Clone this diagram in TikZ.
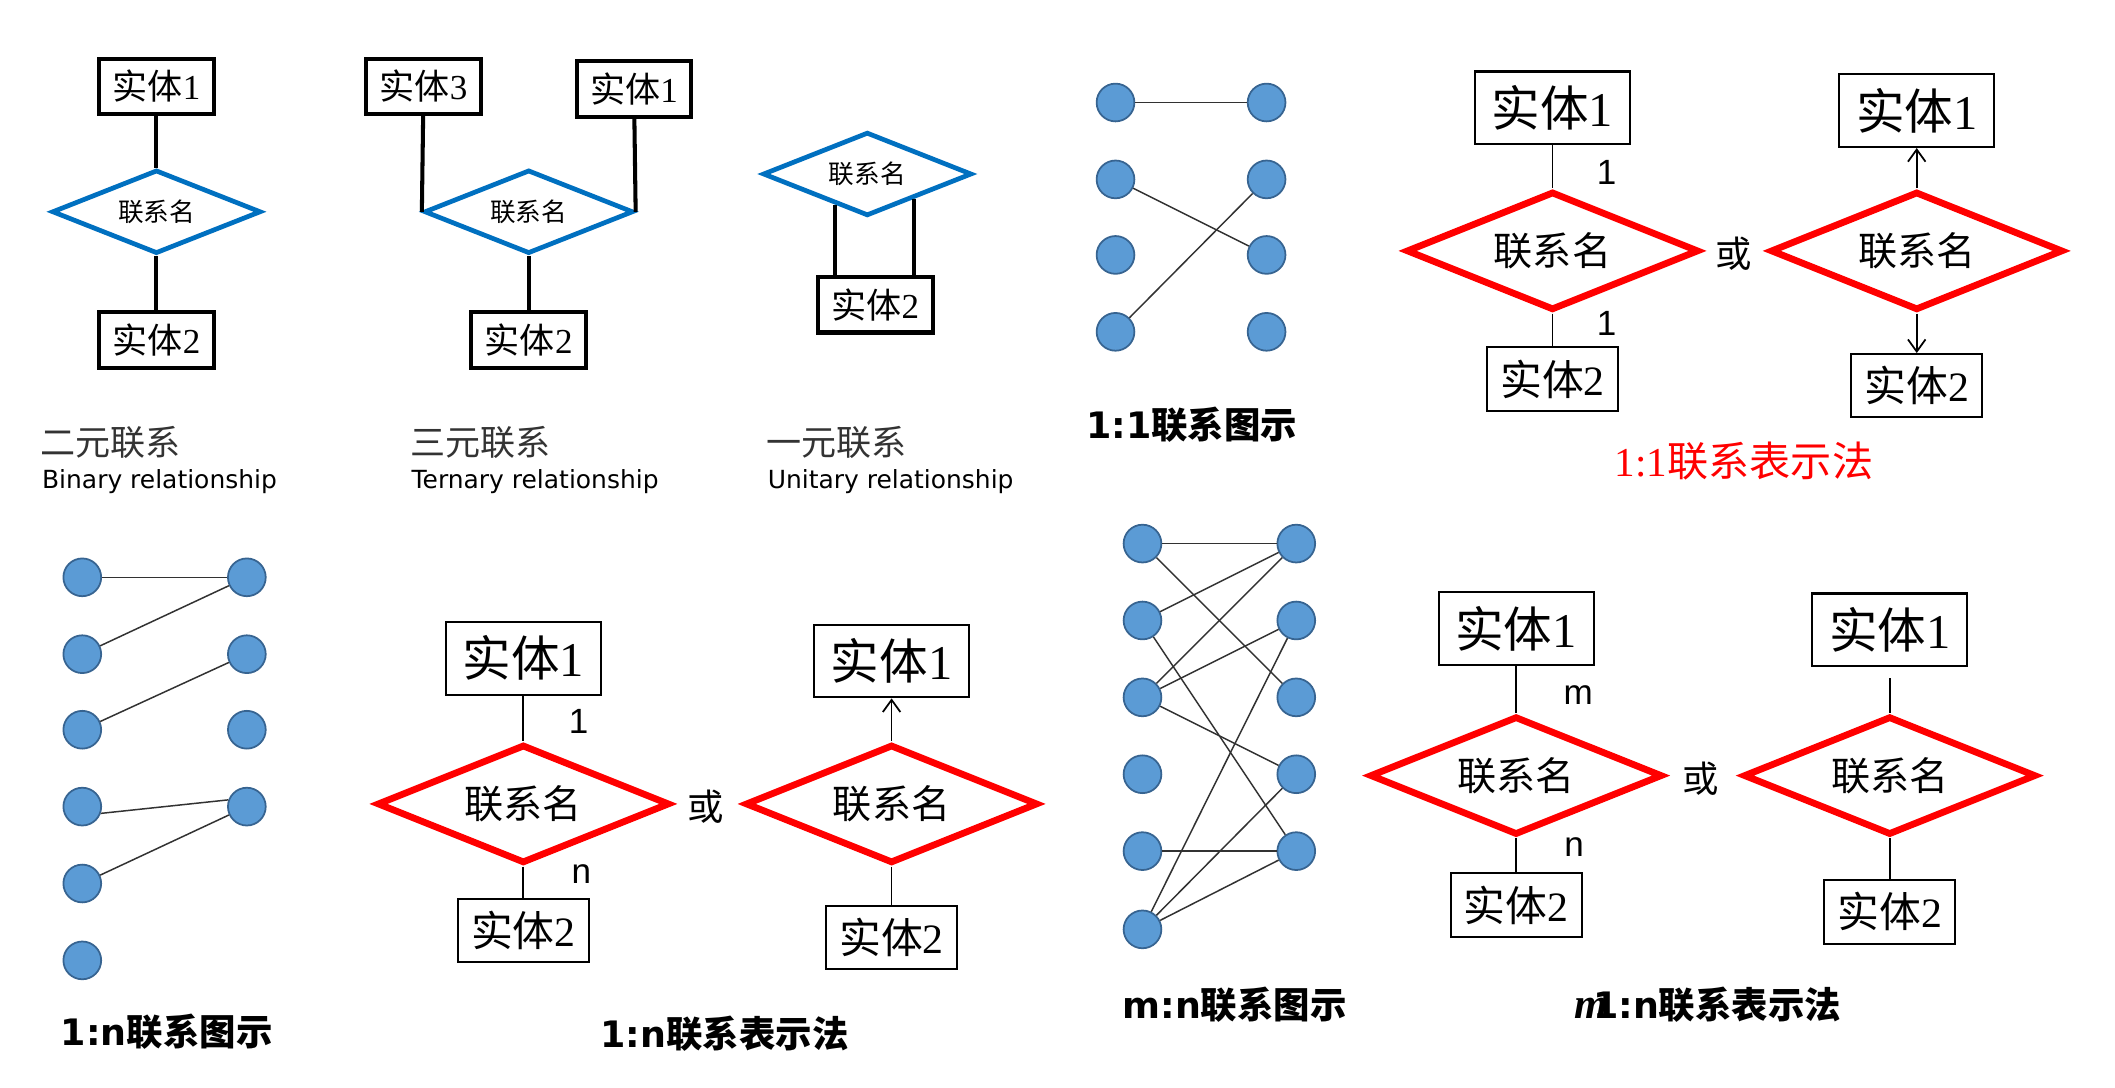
\documentclass[tikz,border=0pt]{standalone}
\usepackage{fontspec}
\setmainfont{Liberation Serif}
\setsansfont{DejaVu Sans}
\newfontfamily\cjk{Noto Sans CJK SC}
\newfontfamily\arial{Liberation Sans}
\usetikzlibrary{arrows.meta,positioning,shapes.geometric,calc}
\definecolor{relblue}{RGB}{0,112,192}
\definecolor{dotfill}{RGB}{91,155,213}
\definecolor{dotedge}{RGB}{55,100,145}
\definecolor{edgegray}{RGB}{50,50,50}

\begin{document}
\begin{tikzpicture}[x=1pt,y=-1pt,>={Straight Barb[length=9pt,width=13pt]},node distance=94pt]
\tikzstyle{entity} = [rectangle, draw, line width=3pt,
    minimum width=85pt, minimum height=41pt, inner sep=0pt, font=\cjk\fontsize{26}{26}\selectfont]
\tikzstyle{relation} = [diamond, draw=relblue, line width=3.5pt, aspect=2.4,
    minimum width=155pt, minimum height=62pt, inner sep=0pt, font=\cjk\fontsize{19}{19}\selectfont]
\tikzstyle{entbig} = [rectangle, draw, line width=1.5pt,
    minimum width=115pt, minimum height=54pt, inner sep=0pt, font=\cjk\fontsize{36}{36}\selectfont]
\tikzstyle{entsmall} = [rectangle, draw, line width=1.5pt,
    minimum width=97pt, minimum height=47pt, inner sep=0pt, font=\cjk\fontsize{31}{31}\selectfont]
\tikzstyle{relred} = [diamond, draw=red, line width=5pt, aspect=2.4,
    minimum width=217pt, minimum height=88pt, inner sep=0pt, font=\cjk\fontsize{29}{29}\selectfont]
\tikzstyle{ball} = [circle, draw=dotedge, fill=dotfill, line width=1.3pt, minimum size=28pt, inner sep=0pt]
\tikzstyle{link} = [draw, line width=3pt]
\tikzstyle{tie} = [draw, line width=1.3pt]
\tikzstyle{pair} = [draw=edgegray, line width=1.1pt]
\tikzstyle{card} = [font=\arial\fontsize{26}{26}\selectfont]
\tikzstyle{orword} = [font=\cjk\fontsize{27}{27}\selectfont]
\tikzstyle{caption} = [anchor=west, inner sep=0pt, text=black!80, font=\cjk\fontsize{26}{26}\selectfont]
\tikzstyle{english} = [anchor=west, inner sep=0pt, font=\sffamily\fontsize{18.5}{18.5}\selectfont]
\tikzstyle{title} = [anchor=west, inner sep=0pt, font=\cjk\bfseries\fontsize{27}{27}\selectfont]

\useasboundingbox (0,0) rectangle (1568,806);
\fill[white] (0,0) rectangle (1568,806);

% binary
\node[entity] (bin1) at (116,64) {实体{\rmfamily 1}};
\node[relation, below of=bin1, node distance=93pt] (binrel) {联系名};
\node[entity, below of=binrel, node distance=95pt] (bin2) {实体{\rmfamily 2}};
\draw[link] (bin1) -- (binrel);
\draw[link] (binrel) -- (bin2);
\node[caption] (binzh) at (30,328) {二元联系};
\node[english] (binen) at (31,357) {Binary relationship};

% ternary
\node[relation] (terrel) at (392,157) {联系名};
\node[entity] (ter3) at (314,64) {实体{\rmfamily 3}};
\node[entity] (ter1) at (470,66) {实体{\rmfamily 1}};
\node[entity, below of=terrel, node distance=95pt] (ter2) {实体{\rmfamily 2}};
\draw[link] (ter3) -- (terrel.west);
\draw[link] (ter1) -- (terrel.east);
\draw[link] (terrel) -- (ter2);
\node[caption] (terzh) at (304,328) {三元联系};
\node[english] (teren) at (305,357) {Ternary relationship};

% unitary
\node[relation] (unirel) at (643,129) {联系名};
\node[entity] (uni2) at (649,226) {实体{\rmfamily 2}};
\coordinate (ul) at ($(unirel.south)!0.3!(unirel.west)$);
\coordinate (ur) at ($(unirel.south)!0.44!(unirel.east)$);
\draw[link] (ul) -- (ul |- uni2.north);
\draw[link] (ur) -- (ur |- uni2.north);
\node[caption] (unizh) at (568,328) {一元联系};
\node[english] (unien) at (569,357) {Unitary relationship};

% 1:1
\foreach \i/\y in {1/76,2/133,3/189,4/246} {
  \node[ball] (oa\i) at (827,\y) {};
  \node[ball] (ob\i) at (939,\y) {};
}
\draw[pair] (oa1) -- (ob1);
\draw[pair] (oa2) -- (ob3);
\draw[pair] (oa4) -- (ob2);
\node[title] (onepic) at (805,315) {{\sffamily 1:1}联系图示};

\node[entbig] (oe1) at (1151,80) {实体{\rmfamily 1}};
\node[relred, below of=oe1, node distance=106pt] (orel) {联系名};
\node[entsmall, below of=orel, node distance=95pt] (oe2) {实体{\rmfamily 2}};
\draw[tie] (oe1) -- (orel);
\draw[tie] (orel) -- (oe2);
\node[card] (oc1) at (1191,128) {1};
\node[card] (oc2) at (1191,240) {1};
\node[orword] (oor) at (1285,188) {或};
\node[entbig] (oe3) at (1421,82) {实体{\rmfamily 1}};
\node[relred, below of=oe3, node distance=104pt] (orel2) {联系名};
\node[entsmall, below of=orel2, node distance=100pt] (oe4) {实体{\rmfamily 2}};
\draw[tie, ->] (orel2) -- (oe3);
\draw[tie, ->] (orel2) -- (oe4);
\node[text=red, font=\cjk\fontsize{30.5}{30.5}\selectfont] (onetitle) at (1293,342) {{\rmfamily 1:1}联系表示法};

% 1:n
\foreach \i/\y in {1/428,2/485,3/541,4/598,5/655,6/712}
  \node[ball] (na\i) at (61,\y) {};
\foreach \i/\y in {1/428,2/485,3/541,4/598}
  \node[ball] (nb\i) at (183,\y) {};
\foreach \a/\b in {1/1,2/1,3/2,5/4}
  \draw[pair] (na\a) -- (nb\b);
\draw[pair] (na4.-20) -- (nb4.160);
\node[title] (onenpic) at (45,765) {{\sffamily 1:n}联系图示};

\node[entbig] (ne1) at (388,488) {实体{\rmfamily 1}};
\node[relred, below of=ne1, node distance=108pt] (nrel) {联系名};
\node[entsmall, below of=nrel, node distance=94pt] (ne2) {实体{\rmfamily 2}};
\draw[tie] (ne1) -- (nrel);
\draw[tie] (nrel) -- (ne2);
\node[card] (nc1) at (429,535) {1};
\node[card] (nc2) at (431,648) {n};
\node[orword] (nor) at (523,598) {或};
\node[entbig] (ne3) at (661,490) {实体{\rmfamily 1}};
\node[relred, below of=ne3, node distance=106pt] (nrel2) {联系名};
\node[entsmall, below of=nrel2, node distance=99pt] (ne4) {实体{\rmfamily 2}};
\draw[tie, ->] (nrel2) -- (ne3);
\draw[tie] (nrel2) -- (ne4);
\node[title] (onentitle) at (445,766) {{\sffamily 1:n}联系表示法};

% m:n
\foreach \i/\y in {1/403,2/460,3/517,4/574,5/631,6/689}
  \node[ball] (ma\i) at (847,\y) {};
\foreach \i/\y in {1/403,2/460,3/517,4/574,5/631}
  \node[ball] (mb\i) at (961,\y) {};
\foreach \a/\b in {1/1,1/3,2/1,2/5,3/1,3/2,3/4,5/5,6/2,6/4,6/5}
  \draw[pair] (ma\a) -- (mb\b);
\node[title] (mnpic) at (832,745) {{\sffamily m:n}联系图示};

\node[entbig] (me1) at (1124,466) {实体{\rmfamily 1}};
\node[relred, below of=me1, node distance=109pt] (mrel) {联系名};
\node[entsmall, below of=mrel, node distance=96pt] (me2) {实体{\rmfamily 2}};
\draw[tie] (me1) -- (mrel);
\draw[tie] (mrel) -- (me2);
\node[card] (mc1) at (1170,515) {m};
\node[card] (mc2) at (1167,628) {n};
\node[orword] (mor) at (1261,577) {或};
\node[entbig] (me3) at (1401,467) {实体{\rmfamily 1}};
\node[relred, below of=me3, node distance=108pt] (mrel2) {联系名};
\node[entsmall, below of=mrel2, node distance=101pt] (me4) {实体{\rmfamily 2}};
\draw[tie, shorten <=8pt] (me3) -- (mrel2);
\draw[tie] (mrel2) -- (me4);
\node[title] (mntitle) at (1167,745) {{\rmfamily\itshape\fontsize{32}{32}\selectfont m}\kern-11pt{\sffamily 1:n}联系表示法};

\end{tikzpicture}
\end{document}
